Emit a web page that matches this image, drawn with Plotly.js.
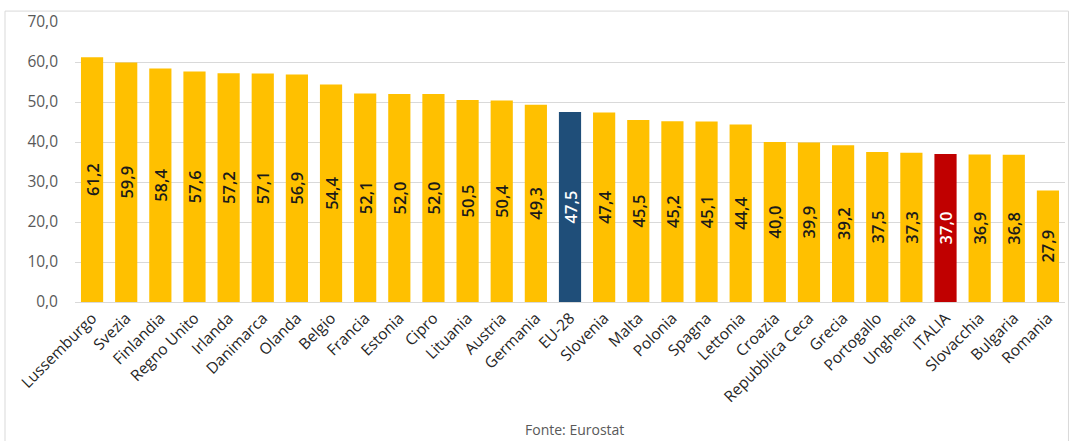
<!DOCTYPE html>
<html><head><meta charset="utf-8">
<script src="https://cdn.plot.ly/plotly-3.0.1.min.js"></script>
<style>html,body{margin:0;padding:0;background:#fff}#chart{width:1070px;height:441px}</style>
</head><body><div id="chart"></div>
<script>
const countries = ["Lussemburgo","Svezia","Finlandia","Regno Unito","Irlanda","Danimarca","Olanda","Belgio","Francia","Estonia","Cipro","Lituania","Austria","Germania","EU-28","Slovenia","Malta","Polonia","Spagna","Lettonia","Croazia","Repubblica Ceca","Grecia","Portogallo","Ungheria","ITALIA","Slovacchia","Bulgaria","Romania"];
const values = [61.2,59.9,58.4,57.6,57.2,57.1,56.9,54.4,52.1,52.0,52.0,50.5,50.4,49.3,47.5,47.4,45.5,45.2,45.1,44.4,40.0,39.9,39.2,37.5,37.3,37.0,36.9,36.8,27.9];
const yTickVals = [0,10,20,30,40,50,60,70];
const yTickText = ["0,0","10,0","20,0","30,0","40,0","50,0","60,0","70,0"];
const highlightEU = "EU-28";
const highlightIT = "ITALIA";

const barColors = countries.map(c => c === highlightEU ? "#1F4E79" : (c === highlightIT ? "#C00000" : "#FFC000"));
const textColors = countries.map(c => (c === highlightEU || c === highlightIT) ? "#FFFFFF" : "#1a1a1a");
const labels = values.map(v => v.toFixed(1).replace(".", ","));

const trace = {
  type: "bar",
  x: countries,
  y: values,
  marker: {color: barColors},
  text: labels,
  textposition: "inside",
  insidetextanchor: "middle",
  textangle: -90,
  textfont: {family: "Open Sans, sans-serif", size: 16.5, color: textColors, weight: 600},
  constraintext: "none",
  hoverinfo: "skip"
};

const layout = {
  width: 1070, height: 441,
  margin: {l: 75, r: 5, t: 22, b: 139},
  paper_bgcolor: "#ffffff",
  plot_bgcolor: "#ffffff",
  bargap: 0.35,
  showlegend: false,
  xaxis: {
    tickangle: -45,
    tickfont: {family: "Open Sans, sans-serif", size: 15.5, color: "#262626"},
    showgrid: false,
    showline: true,
    linecolor: "#D9D9D9",
    linewidth: 1,
    ticks: "",
    automargin: false
  },
  yaxis: {
    range: [0, 70],
    tickvals: yTickVals,
    ticktext: yTickText,
    tickfont: {family: "Open Sans, sans-serif", size: 15.5, color: "#595959"},
    showgrid: true,
    gridcolor: "#D9D9D9",
    gridwidth: 1,
    zeroline: false,
    showline: false,
    ticks: "",
    ticklabelstandoff: 16,
    automargin: false
  },
  annotations: [{
    text: "Fonte: Eurostat",
    xref: "paper", yref: "paper",
    x: 0.505, y: -0.455, xanchor: "center", yanchor: "middle",
    showarrow: false,
    font: {family: "Open Sans, sans-serif", size: 14, color: "#595959"}
  }],
  shapes: [{
    type: "rect", xref: "paper", yref: "paper",
    x0: -0.0707, x1: 1.0035, y0: -0.6, y1: 1.039,
    line: {color: "#D9D9D9", width: 1}, fillcolor: "rgba(0,0,0,0)", layer: "below"
  }]
};

Plotly.newPlot("chart", [trace], layout, {displayModeBar: false, staticPlot: true});
</script>
</body></html>
